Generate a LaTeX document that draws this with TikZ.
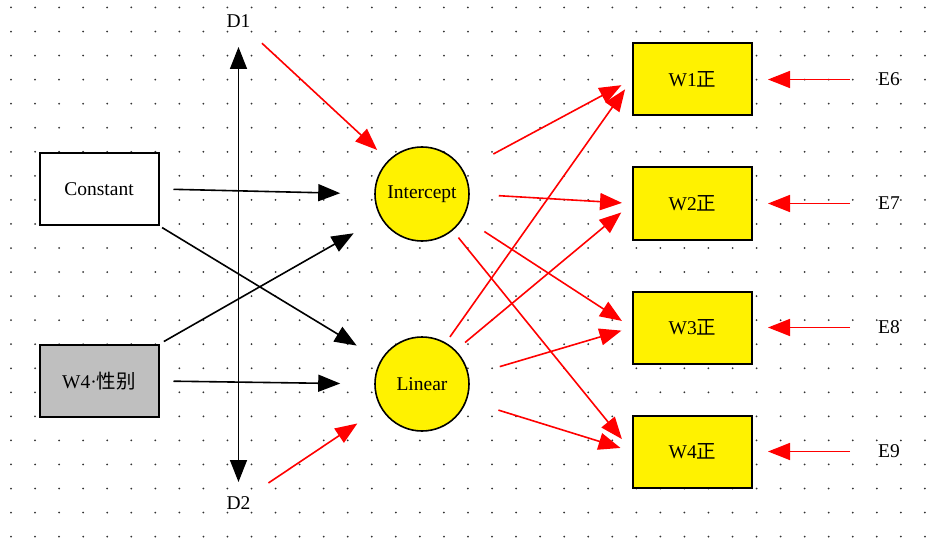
\documentclass[tikz,border=0pt]{standalone}
\usepackage{fontspec}
\setmainfont{Liberation Serif}
\newfontfamily\cjk{Noto Sans CJK SC}
\usetikzlibrary{arrows.meta}

\tikzset{
	bigtri/.tip={Triangle[length=22pt,width=17pt]},
	blk/.style={draw=black, line width=1.6pt, -bigtri},
	redarr/.style={draw=red, line width=1.6pt, -bigtri},
	box/.style={draw=black, line width=2pt, fill=white, minimum width=119pt, minimum height=72pt, inner sep=0pt},
	wbox/.style={box, fill=yellow},
	circ/.style={draw=black, line width=1.6pt, circle, fill=yellow, minimum size=94pt, inner sep=0pt},
	lbl/.style={inner sep=0pt}
}

\begin{document}
\begin{tikzpicture}[x=1pt, y=-1pt, font=\fontsize{19.5}{22}\selectfont]
					\useasboundingbox (0,0) rectangle (942,540);
					\fill[white] (0,0) rectangle (942,540);
					\foreach \i in {0,...,38}
						\foreach \j in {0,...,22}
							\fill[black!80] (11+24.05*\i, 7.5+24.05*\j) circle[radius=1pt];
					\node[box] (cons) at (99,189) {Constant};
					\node[box, fill=black!25] (sex) at (99,381) {W4·{\cjk 性别}};
					\node[circ] (icpt) at (422,194) {Intercept};
					\node[circ] (lin) at (422,384) {Linear};
					\node[lbl] (d1) at (238.5,21.5) {D1};
					\node[lbl] (d2) at (238.5,503) {D2};
					\foreach \i/\y/\e in {1/79.5/6, 2/203.5/7, 3/327.5/8, 4/451.5/9} {
						\node[wbox] (w\i) at (692.5,\y) {W\i{\cjk 正}};
						\node[lbl] (e\e) at (889,\y) {E\e};
						\draw[redarr, shorten <=39pt, shorten >=15pt] (e\e.center) -- (w\i.east);
					}
					\draw[blk, bigtri-bigtri, shorten <=25.5pt, shorten >=21pt] (d1.center) -- (d2.center);
					\draw[blk, shorten <=14pt, shorten >=34pt] (cons.east) -- (icpt.west);
					\draw[blk, shorten <=3pt, shorten >=28pt] (cons.south east) -- (lin.150);
					\draw[blk, shorten <=5pt, shorten >=31pt] (sex.north east) -- (icpt.210);
					\draw[blk, shorten <=14pt, shorten >=34pt] (sex.east) -- (lin.west);
					\draw[redarr, shorten <=32pt, shorten >=15pt] (d1.center) -- (icpt.135);
					\draw[redarr, shorten <=36pt, shorten >=28pt] (d2.center) -- (lin.210);
					\draw[redarr, shorten <=34pt, shorten >=12pt] (icpt.30) -- (w1.west);
					\draw[redarr, shorten <=29pt, shorten >=10pt] (icpt.east) -- (w2.west);
					\draw[redarr, shorten <=25pt, shorten >=12pt] (icpt.-30) -- (w3.west);
					\draw[redarr, shorten <=9pt, shorten >=16pt] (icpt.-50) -- (w4.west);
					\draw[redarr, shorten <=7pt, shorten >=12pt] (lin.60) -- (w1.west);
					\draw[redarr, shorten <=12pt, shorten >=14pt] (lin.45) -- (w2.west);
					\draw[redarr, shorten <=32pt, shorten >=11pt] (lin.10) -- (w3.west);
					\draw[redarr, shorten <=33pt, shorten >=12pt] (lin.-20) -- (w4.west);
				\end{tikzpicture}
\end{document}
